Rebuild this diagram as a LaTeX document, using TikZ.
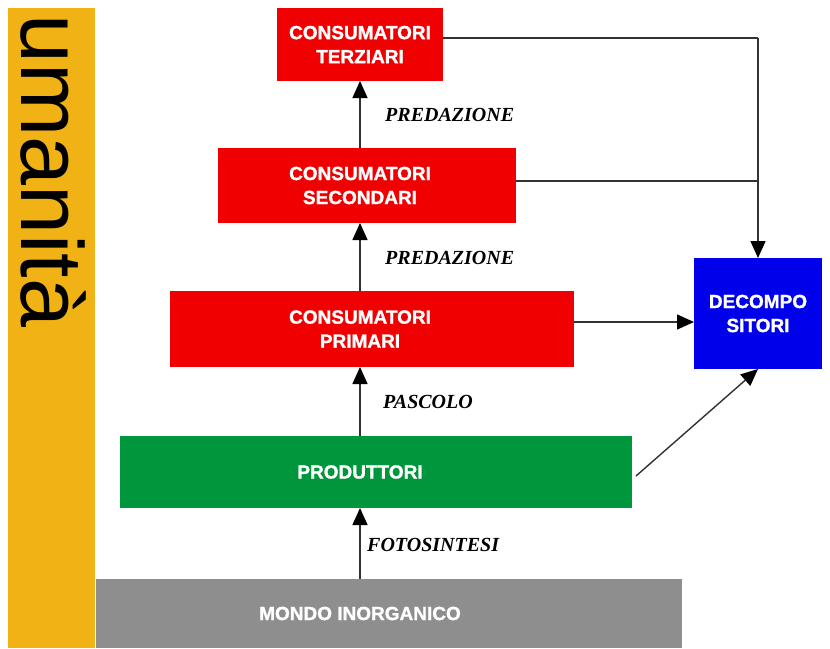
\documentclass[tikz,border=0pt]{standalone}
\usepackage{fontspec}
\setmainfont{Liberation Serif}
\setsansfont{Liberation Sans}
\newfontfamily\heavyfont[FakeBold=1.3]{Liberation Sans Bold}
\usetikzlibrary{arrows.meta}
\definecolor{bandorange}{RGB}{240,178,20}
\definecolor{boxred}{RGB}{240,0,0}
\definecolor{boxgreen}{RGB}{0,150,60}
\definecolor{boxblue}{RGB}{0,0,235}
\definecolor{boxgray}{RGB}{142,142,142}
\definecolor{linegray}{RGB}{50,50,50}
\begin{document}
\begin{tikzpicture}[x=1pt,y=-1pt,
  level/.style={rectangle, inner sep=0pt, outer sep=0pt, anchor=north west},
  boxtext/.style={text=white, font=\heavyfont\fontsize{19}{24}\selectfont, align=center, inner sep=0pt},
  flowlabel/.style={font=\rmfamily\bfseries\itshape\fontsize{20}{20}\selectfont, anchor=west, inner sep=0pt},
  arr/.style={draw=linegray, line width=1.4pt, -{Triangle[length=17pt,width=15pt,color=black]}},
  link/.style={draw=linegray, line width=1.4pt}]
\useasboundingbox (0,0) rectangle (830,648);
\fill[white] (0,0) rectangle (830,648);

% side band with vertical title
\node[level, fill=bandorange, minimum width=87pt, minimum height=640pt] (band) at (8,8) {};
\node[rotate=-90, anchor=south west, inner sep=0pt,
      font=\sffamily\fontsize{88}{88}\selectfont] (title) at (20,14) {umanità};

% trophic levels
\node[level, fill=boxred,   minimum width=166pt, minimum height=73pt]  (terz)  at (277,8)   {};
\node[level, fill=boxred,   minimum width=298pt, minimum height=75pt]  (sec)   at (218,148) {};
\node[level, fill=boxred,   minimum width=404pt, minimum height=76pt]  (prim)  at (170,291) {};
\node[level, fill=boxgreen, minimum width=512pt, minimum height=72pt]  (prod)  at (120,436) {};
\node[level, fill=boxgray,  minimum width=586pt, minimum height=69pt]  (mondo) at (96,579)  {};
\node[level, fill=boxblue,  minimum width=128pt, minimum height=111pt] (deco)  at (694,258) {};

% box captions, centred on the main axis
\coordinate (axis) at (360,0);
\node[boxtext] (tterz)  at (terz  -| axis) {CONSUMATORI\\TERZIARI};
\node[boxtext] (tsec)   at (sec   -| axis) {CONSUMATORI\\SECONDARI};
\node[boxtext] (tprim)  at (prim  -| axis) {CONSUMATORI\\PRIMARI};
\node[boxtext] (tprod)  at (prod  -| axis) {PRODUTTORI};
\node[boxtext] (tmondo) at (mondo -| axis) {MONDO INORGANICO};
\node[boxtext] (tdeco)  at (deco) {DECOMPO\\SITORI};

% upward flow along the axis
\draw[arr] (mondo.north -| axis) -- (prod.south -| axis);
\draw[arr] (prod.north -| axis)  -- (prim.south -| axis);
\draw[arr] (prim.north -| axis)  -- (sec.south -| axis);
\draw[arr] (sec.north -| axis)   -- (terz.south -| axis);

\node[flowlabel] (lfoto) at (367,545) {FOTOSINTESI};
\node[flowlabel] (lpasc) at (383,402) {PASCOLO};
\node[flowlabel] (lpred1) at (385,258) {PREDAZIONE};
\node[flowlabel] (lpred2) at (385,115) {PREDAZIONE};

% flows towards the decomposers
\coordinate (ty) at (0,38);
\coordinate (sy) at (0,181);
\coordinate (py) at (0,322);
\draw[link] (terz.east |- ty) -- (ty -| deco.north);
\draw[arr]  (ty -| deco.north) -- (deco.north);
\draw[link] (sec.east |- sy) -- (sy -| deco.north);
\draw[arr]  (prim.east |- py) -- (deco.west |- py);
\draw[arr]  ([shift={(4,4)}]prod.east) -- (deco.south);
\end{tikzpicture}
\end{document}
